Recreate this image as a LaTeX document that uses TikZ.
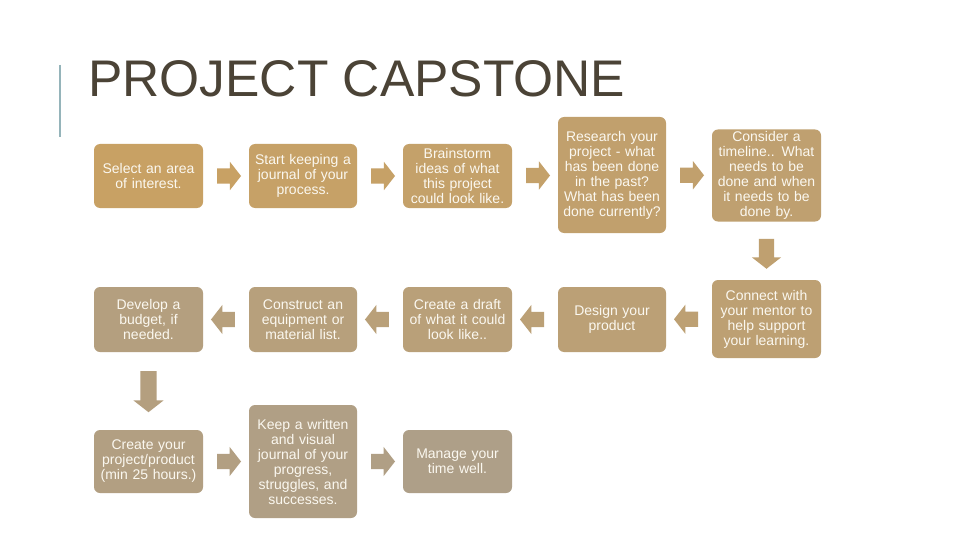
\documentclass[tikz,border=0pt]{standalone}
\usepackage{fontspec}
\setmainfont{Liberation Sans}
\usetikzlibrary{shapes.arrows,calc}
\definecolor{gold}{HTML}{C8A164}
\definecolor{taupe}{HTML}{AE9F88}
\definecolor{titlecol}{HTML}{4B4336}
\definecolor{barcol}{HTML}{95B4BA}
\definecolor{txtcol}{HTML}{FBF8F0}
\colorlet{c1}{taupe!0!gold}
\colorlet{c2}{taupe!8!gold}
\colorlet{c3}{taupe!17!gold}
\colorlet{c4}{taupe!25!gold}
\colorlet{c5}{taupe!33!gold}
\colorlet{c6}{taupe!42!gold}
\colorlet{c7}{taupe!50!gold}
\colorlet{c8}{taupe!58!gold}
\colorlet{c9}{taupe!67!gold}
\colorlet{c10}{taupe!75!gold}
\colorlet{c11}{taupe!83!gold}
\colorlet{c12}{taupe!92!gold}
\colorlet{c13}{taupe!100!gold}
\tikzset{
  box/.style={rectangle, rounded corners=6pt, draw=none, inner sep=2pt,
    text width=104pt, align=center, text=txtcol,
    font=\fontsize{14}{15}\selectfont},
  blockarr/.style={single arrow, draw=none, inner sep=7.5pt,
    minimum height=24pt,
    single arrow head extend=6.5pt, single arrow tip angle=104},
  harr/.style={blockarr, inner xsep=0pt, inner ysep=7.5pt},
}
\begin{document}
\begin{tikzpicture}[x=1pt,y=-1pt]
\useasboundingbox (0,0) rectangle (960,540);
\fill[white] (0,0) rectangle (960,540);
% title
\draw[barcol, line width=2pt] (60,65) -- (60,137);
\node[anchor=base west, inner sep=0pt, text=titlecol,
  font=\fontsize{51.5}{52}\selectfont] (title) at (88,97) {PROJECT CAPSTONE};
% row 1
\node[box, fill=c1, minimum width=109pt, minimum height=64pt] (b1) at (148.5,176) {Select an area\\of interest.};
\node[box, fill=c2, minimum width=108pt, minimum height=64pt] (b2) at (303,176) {Start keeping a\\journal of your\\process.};
\node[box, fill=c3, minimum width=109pt, minimum height=64pt] (b3) at (457.5,176) {Brainstorm\\ideas of what\\this project\\could look like.};
\node[box, fill=c4, minimum width=108pt, minimum height=116pt] (b4) at (612,175) {Research your\\project - what\\has been done\\in the past?\\What has been\\done currently?};
\node[box, fill=c5, minimum width=109pt, minimum height=91pt] (b5) at (766.5,175.5) {Consider a\\timeline.. What\\needs to be\\done and when\\it needs to be\\done by.};
% row 2
\node[box, fill=c6, minimum width=109pt, minimum height=78pt] (b6) at (766.5,319) {Connect with\\your mentor to\\help support\\your learning.};
\node[box, fill=c7, minimum width=108pt, minimum height=65pt] (b7) at (612,319.5) {Design your\\product};
\node[box, fill=c8, minimum width=109pt, minimum height=65pt] (b8) at (457.5,319.5) {Create a draft\\of what it could\\look like..};
\node[box, fill=c9, minimum width=108pt, minimum height=65pt] (b9) at (303,319.5) {Construct an\\equipment or\\material list.};
\node[box, fill=c10, minimum width=109pt, minimum height=65pt] (b10) at (148.5,319.5) {Develop a\\budget, if\\needed.};
% row 3
\node[box, fill=c11, minimum width=109pt, minimum height=63pt] (b11) at (148.5,461.5) {Create your\\project/product\\(min 25 hours.)};
\node[box, fill=c12, minimum width=108pt, minimum height=113pt] (b12) at (303,461.5) {Keep a written\\and visual\\journal of your\\progress,\\struggles, and\\successes.};
\node[box, fill=c13, minimum width=109pt, minimum height=63pt] (b13) at (457.5,461.5) {Manage your\\time well.};
% arrows
\node[harr, fill=c1] (a12) at ($(b1.east)!0.5!(b2.west)$) {};
\node[harr, fill=c2] (a23) at ($(b2.east)!0.5!(b3.west)$) {};
\node[harr, fill=c3] (a34) at ($(b3.east)!0.5!(b4.west)$) {};
\node[harr, fill=c4] (a45) at ($(b4.east)!0.5!(b5.west)$) {};
\node[blockarr, fill=c5, shape border rotate=270, minimum height=30pt, inner sep=7.5pt, single arrow head extend=7pt] (a56) at ($(b5.south)!0.5!(b6.north)$) {};
\node[harr, fill=c6, shape border rotate=180, single arrow head extend=7pt] (a67) at ($(b6.west)!0.5!(b7.east)$) {};
\node[harr, fill=c7, shape border rotate=180, single arrow head extend=7pt] (a78) at ($(b7.west)!0.5!(b8.east)$) {};
\node[harr, fill=c8, shape border rotate=180, single arrow head extend=7pt] (a89) at ($(b8.west)!0.5!(b9.east)$) {};
\node[harr, fill=c9, shape border rotate=180, single arrow head extend=7pt] (a910) at ($(b9.west)!0.5!(b10.east)$) {};
\node[blockarr, fill=c10, shape border rotate=270, minimum height=41pt, inner sep=8pt, single arrow head extend=7pt] (a1011) at ($(b10.south)!0.5!(b11.north)+(0,-2.5)$) {};
\node[harr, fill=c11, single arrow head extend=7pt] (a1112) at ($(b11.east)!0.5!(b12.west)$) {};
\node[harr, fill=c12, single arrow head extend=7pt] (a1213) at ($(b12.east)!0.5!(b13.west)$) {};
\end{tikzpicture}
\end{document}
